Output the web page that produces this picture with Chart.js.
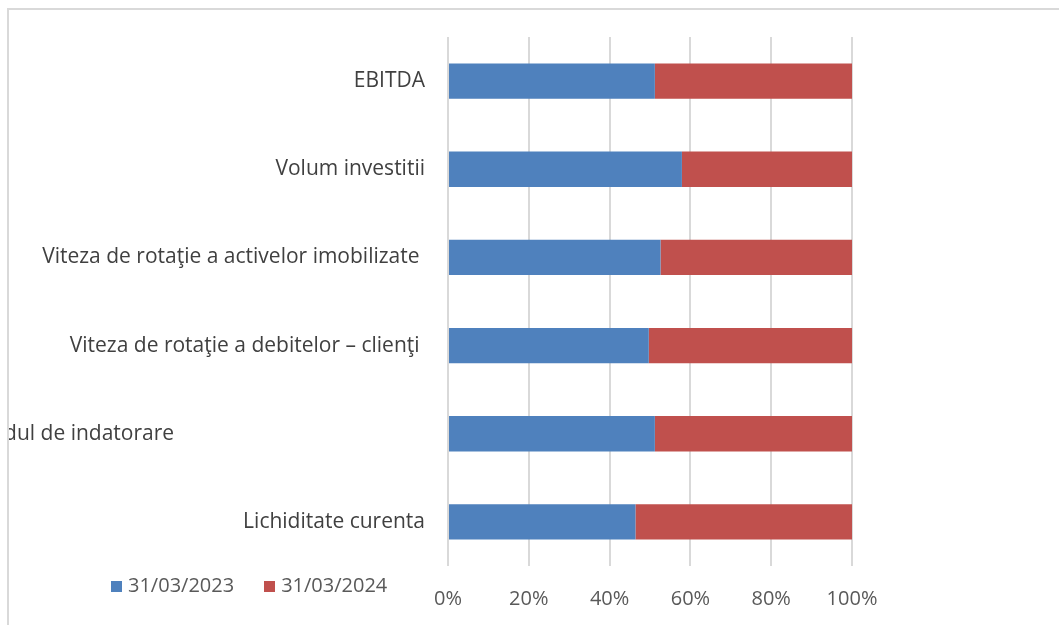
<!DOCTYPE html>
<html>
<head>
<meta charset="utf-8">
<script src="https://cdn.jsdelivr.net/npm/chart.js@4"></script>
<style>
  html, body { margin: 0; padding: 0; background: #fff; }
  body { width: 1059px; height: 625px; position: relative; overflow: hidden; }
  #frame {
    position: absolute; left: 7px; top: 8px;
    border-left: 2px solid #d9d9d9; border-top: 2px solid #d9d9d9;
    width: 1050px; height: 615px; overflow: hidden;
  }
  #legend {
    position: absolute; left: 111px; top: 571px;
    font-family: 'Open Sans', sans-serif; font-size: 20px; color: #595959;
    display: flex; gap: 30px; white-space: nowrap; line-height: 28px;
  }
  #legend span.box { display: inline-block; width: 11px; height: 11px; margin-right: 6px; }
</style>
</head>
<body>
<div id="frame"><canvas id="chart" width="1050" height="615"></canvas></div>
<div id="legend"></div>
<script>
// categories, top to bottom
const categories = [
    'EBITDA',
    'Volum investitii',
    'Viteza de rotaţie a activelor imobilizate ',
    'Viteza de rotaţie a debitelor – clienţi ',
    'Gradul de indatorare' + ' '.repeat(46),
    'Lichiditate curenta'
];
// share of each period, in %
const share2023 = [51.2, 57.9, 52.6, 49.7, 51.2, 46.4];
const share2024 = [48.8, 42.1, 47.4, 50.3, 48.8, 53.6];
const seriesNames = ['31/03/2023', '31/03/2024'];
const xTicks = [0, 20, 40, 60, 80, 100];

const blue = '#4f81bd';
const red = '#c0504d';

const ctx = document.getElementById('chart').getContext('2d');
const chart = new Chart(ctx, {
    type: 'bar',
    data: {
        labels: categories,
        datasets: [
            { label: seriesNames[0], data: share2023, backgroundColor: blue },
            { label: seriesNames[1], data: share2024, backgroundColor: red }
        ]
    },
    options: {
        indexAxis: 'y',
        responsive: false,
        animation: false,
        categoryPercentage: 1,
        barPercentage: 0.4,
        layout: { padding: { top: 27, right: 207, bottom: 0, left: 0 } },
        plugins: {
            legend: { display: false },
            tooltip: { enabled: false }
        },
        scales: {
            x: {
                stacked: true,
                min: 0,
                max: 100,
                afterBuildTicks: function(scale) {
                    scale.ticks = xTicks.map(v => ({ value: v }));
                },
                afterFit: function(scale) { scale.height = 59; },
                grid: { color: '#d9d9d9', lineWidth: 2, drawTicks: false },
                border: { display: false },
                ticks: {
                    color: '#595959',
                    padding: 21,
                    font: { family: 'Open Sans', size: 20 },
                    callback: function(value) { return value + '%'; }
                }
            },
            y: {
                stacked: true,
                afterFit: function(scale) {
                    scale.width = 439;
                    scale.paddingTop = 0;
                    scale.paddingBottom = 0;
                },
                grid: { display: false, drawTicks: false },
                border: { display: false },
                ticks: {
                    color: '#404040',
                    padding: 23,
                    autoSkip: false,
                    font: { family: 'Open Sans', size: 21 }
                }
            }
        }
    }
});

// legend drawn as html, from the datasets
const legendEl = document.getElementById('legend');
chart.data.datasets.forEach(function(ds) {
    const item = document.createElement('div');
    item.innerHTML = '<span class="box" style="background:' + ds.backgroundColor + '"></span>' + ds.label;
    legendEl.appendChild(item);
});
</script>
</body>
</html>
